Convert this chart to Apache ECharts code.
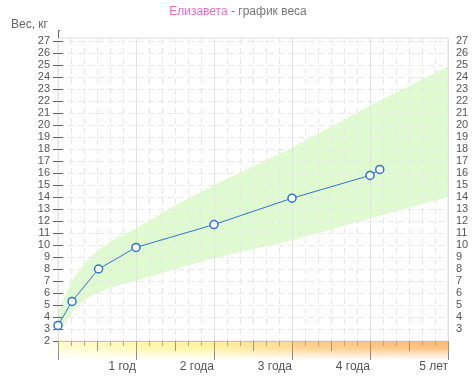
<!DOCTYPE html>
<html><head><meta charset="utf-8">
<script src="https://cdn.jsdelivr.net/npm/echarts@6/dist/echarts.min.js"></script>
<style>html,body{margin:0;padding:0;background:#fff}#c{width:476px;height:382px}</style>
</head><body><div id="c"></div>
<script>
// ---- data ----
const childName = 'Елизавета';
const titleRest = ' - график веса';
const yName = 'Вес, кг';
const ages = [0, 0.18, 0.52, 1, 2, 3, 4, 4.125];          // years
const weights = [3.3, 5.3, 8.0, 9.8, 11.7, 13.9, 15.8, 16.3]; // kg
const normAges  = [0, 0.083, 0.167, 0.25, 0.333, 0.5, 0.75, 1, 1.5, 2, 3, 4, 5];
const normLower = [2.5, 3.4, 4.2, 4.9, 5.4, 6.0, 6.6, 7.0, 8.0, 8.9, 10.4, 12.2, 14.0];
const normUpper = [4.3, 5.7, 6.9, 7.7, 8.4, 9.5, 10.6, 11.4, 13.3, 15.0, 18.1, 21.6, 24.9];
const xTickLabels = ['', '1 год', '2 года', '3 года', '4 года', '5 лет'];
const yMin = 2, yMaxTick = 27;

// ---- hatch pattern ----
const pc = document.createElement('canvas');
pc.width = 4; pc.height = 4;
const g = pc.getContext('2d');
g.fillStyle = 'rgba(208,250,185,0.64)';
g.fillRect(0, 0, 4, 4);
g.strokeStyle = 'rgba(190,238,165,0.22)';
g.lineWidth = 1;
g.beginPath(); g.moveTo(-1, 5); g.lineTo(5, -1); g.stroke();

const font = 'Liberation Sans';
const chart = echarts.init(document.getElementById('c'), null, {renderer: 'canvas'});
const gridLeft = 58, gridRight = 28, gridTop = 38, gridBottom = 41;

const option = {
  animation: false,
  textStyle: {fontFamily: font},
  title: [{
    text: '{a|' + childName + '}{b|' + titleRest + '}',
    left: 'center', top: 1,
    textStyle: {fontWeight: 'normal', rich: {
      a: {color: '#f06ac0', fontSize: 12, fontFamily: font, fontWeight: 'normal'},
      b: {color: '#777', fontSize: 12, fontFamily: font, fontWeight: 'normal'}
    }}
  }, {
    text: yName, left: 6, top: 14,
    textStyle: {color: '#666', fontSize: 12, fontWeight: 'normal', fontFamily: font}
  }],
  grid: {left: gridLeft, right: gridRight, top: gridTop, bottom: gridBottom, show: true, borderColor: '#e2e2e2', borderWidth: 1},
  xAxis: [{
    type: 'value', min: 0, max: 5, interval: 1, z: 10,
    axisLine: {show: true, lineStyle: {color: '#d9c57a', width: 1}},
    axisTick: {show: true, length: 19, lineStyle: {color: '#8a8a8a'}},
    minorTick: {show: true, splitNumber: 6, length: 5, lineStyle: {color: '#b8a878'}},
    splitLine: {show: true, lineStyle: {color: '#e2e2e2', width: 1}},
    minorSplitLine: {show: true, lineStyle: {color: '#e8e8e8', type: [6, 4], width: 1}},
    axisLabel: {color: '#555', fontSize: 12, align: 'right', margin: 20,
      formatter: v => xTickLabels[Math.round(v)] || ''}
  }, {
    type: 'value', min: 0, max: 5, interval: 0.5, position: 'bottom', z: 10,
    axisLine: {show: false},
    axisTick: {show: true, length: 10, lineStyle: {color: '#a89868'}},
    splitLine: {show: false},
    axisLabel: {show: false}
  }],
  yAxis: [{
    type: 'value', min: yMin, max: yMaxTick + 0.25, interval: 1, position: 'left', z: 10,
    axisLine: {show: true, lineStyle: {color: '#666'}},
    axisTick: {show: true, length: 5, lineStyle: {color: '#666'}},
    splitLine: {show: true, lineStyle: {color: '#e8e8e8', type: [6, 4]}},
    axisLabel: {color: '#555', fontSize: 11, margin: 8, showMaxLabel: false,
      formatter: v => (v > yMaxTick ? '' : String(v))}
  }, {
    type: 'value', min: yMin, max: yMaxTick + 0.25, interval: 1, position: 'right', z: 10,
    axisLine: {show: true, lineStyle: {color: '#e2e2e2'}},
    axisTick: {show: true, length: 5, lineStyle: {color: '#666'}},
    splitLine: {show: false},
    axisLabel: {color: '#555', fontSize: 11, margin: 8, showMaxLabel: false, showMinLabel: false,
      formatter: v => (v > yMaxTick || v <= yMin ? '' : String(v))}
  }],
  series: [{
    name: 'norm', type: 'custom', silent: true, z: 2,
    coordinateSystem: 'cartesian2d', xAxisIndex: 0, yAxisIndex: 0,
    data: [[0, 0]],
    renderItem: (params, api) => {
      const pts = [];
      for (let i = 0; i < normAges.length; i++) pts.push(api.coord([normAges[i], normUpper[i]]));
      for (let i = normAges.length - 1; i >= 0; i--) pts.push(api.coord([normAges[i], normLower[i]]));
      return {type: 'polygon', shape: {points: pts, smooth: 0},
        style: {fill: {image: pc, repeat: 'repeat'}, stroke: null}};
    }
  }, {
    name: 'weight', type: 'line', z: 20,
    symbol: 'circle', symbolSize: 8,
    itemStyle: {color: '#fff', borderColor: '#2f72d0', borderWidth: 1.5},
    lineStyle: {color: '#2f72d0', width: 1},
    data: ages.map((a, i) => [a, weights[i]])
  }]
};
chart.setOption(option);

// bottom age band (decoration) positioned via the chart's own scales
const segColors = [
  ['#fffcd2', '#fff9b4'],
  ['#fff7a8', '#fff29a'],
  ['#fff09a', '#ffd98e'],
  ['#ffd088', '#ffc47f'],
  ['#ffc37c', '#ffb870']
];
const y0 = chart.convertToPixel({yAxisIndex: 0}, yMin);
const bandH = 19;
const els = [];
for (let k = 0; k < 5; k++) {
  const xa = chart.convertToPixel({xAxisIndex: 0}, k);
  const xb = chart.convertToPixel({xAxisIndex: 0}, k + 1);
  els.push({type: 'rect', z: -5, silent: true,
    shape: {x: xa, y: y0, width: xb - xa, height: bandH},
    style: {fill: new echarts.graphic.LinearGradient(0, 0, 1, 0, [
      {offset: 0, color: segColors[k][0]}, {offset: 1, color: segColors[k][1]}])}});
}
const xs = chart.convertToPixel({xAxisIndex: 0}, 0);
const xe = chart.convertToPixel({xAxisIndex: 0}, 5);
els.push({type: 'rect', z: -4, silent: true,
  shape: {x: xs, y: y0, width: xe - xs, height: bandH},
  style: {fill: new echarts.graphic.LinearGradient(0, 0, 0, 1, [
    {offset: 0, color: 'rgba(255,255,255,0)'}, {offset: 0.35, color: 'rgba(255,255,255,0.1)'},
    {offset: 1, color: 'rgba(255,255,255,1)'}])}});
// left axis extension with hook
const yTop = chart.convertToPixel({yAxisIndex: 0}, yMaxTick + 0.25);
els.push({type: 'polyline', z: 50, silent: true,
  shape: {points: [[xs + 2, yTop - 8 + 0.5], [xs + 0.5, yTop - 8 + 0.5], [xs + 0.5, yTop]]},
  style: {stroke: '#666', fill: null, lineWidth: 1}});
chart.setOption({graphic: {elements: els}});
</script></body></html>
